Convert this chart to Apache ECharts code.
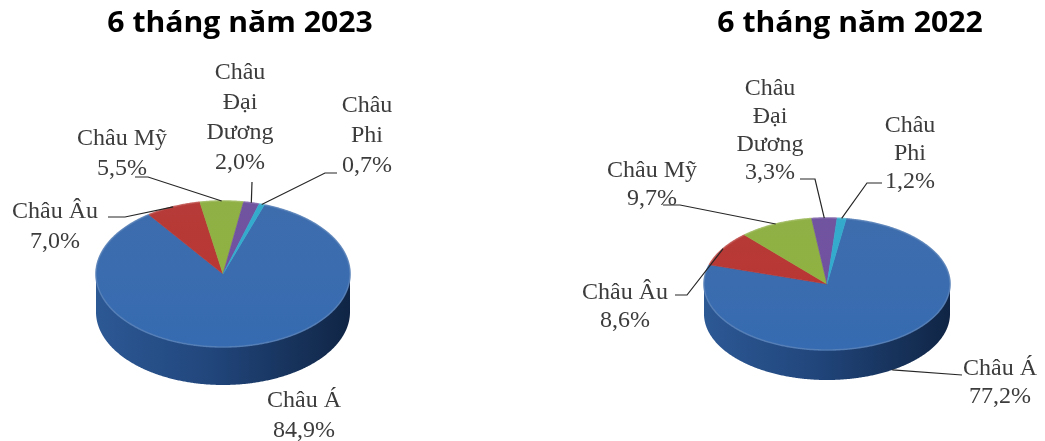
<!DOCTYPE html>
<html><head><meta charset="utf-8">
<script src="https://cdn.jsdelivr.net/npm/echarts@6/dist/echarts.min.js"></script>
<style>html,body{margin:0;padding:0;background:#fff}#c{width:1045px;height:441px}</style>
</head><body><div id="c"></div>
<script>
// ---------- data ----------
const categories = ['Châu Á', 'Châu Âu', 'Châu Mỹ', 'Châu Đại Dương', 'Châu Phi'];
const labelNames = ['Châu Á', 'Châu Âu', 'Châu Mỹ', 'Châu\nĐại\nDương', 'Châu\nPhi'];
const values2023 = [84.9, 7.0, 5.5, 2.0, 0.7];
const values2022 = [77.2, 8.6, 9.7, 3.3, 1.2];
const titles = ['6 tháng năm 2023', '6 tháng năm 2022'];

// ---------- styling / layout ----------
const topColors  = ['#3466a9', '#b3312e', '#8aac3c', '#6a4b9b', '#2ba6c9'];
const sideColors = [['#2c5894', '#21467c', '#102545'], ['#7a211f','#6a1c1a','#4a1210'], ['#5e7828','#506a22','#384b17'], ['#4a346c','#3f2d5d','#2c1f42'], ['#1e7390','#19637c','#114657']];
const layouts = [
  { cx: 223, cy: 274, rx: 127, ry: 73, depth: 38, start: 19, lh: 30,
    titleX: 240, titleY: 24,
    labels: [
      { x: 304, y: 401, elbow: null },
      { x: 55,  y: 212, elbow: [[108,217],[125,217]] },
      { x: 122, y: 139, elbow: [[135,177],[148,177]] },
      { x: 240, y: 73,  elbow: [[252,182]] },
      { x: 367, y: 106, elbow: [[337,173],[325,173]] }
    ] },
  { cx: 827, cy: 284, rx: 123, ry: 66, depth: 30, start: 9, lh: 28,
    titleX: 850, titleY: 24,
    labels: [
      { x: 1000, y: 369, elbow: [[962,375]] },
      { x: 625, y: 293, elbow: [[675,295],[687,295]] },
      { x: 652, y: 171, elbow: [[663,205],[680,205]] },
      { x: 770, y: 89,  elbow: [[800,179],[815,179]] },
      { x: 910, y: 126, elbow: [[882,183],[867,183]] }
    ] }
];
const labelFont = '24px "Liberation Serif"';
const labelColor = '#3c3c3c';

function fmt(v) { return v.toFixed(1).replace('.', ',') + '%'; }

function makeSeries(values, L) {
  const total = values.reduce((a, b) => a + b, 0);
  const starts = [];
  let acc = L.start;
  values.forEach(v => { starts.push(acc); acc += v / total * 360; });
  function P(th, dy) {
    const r = th * Math.PI / 180;
    return [L.cx + L.rx * Math.sin(r), L.cy - L.ry * Math.cos(r) + (dy || 0)];
  }
  return {
    type: 'custom',
    coordinateSystem: 'none',
    silent: true,
    data: values.map((v, i) => [v, i]),
    renderItem: function (params, api) {
      const i = params.dataIndex;
      const v = api.value(0);
      const a0 = starts[i], a1 = a0 + v / total * 360;
      const children = [];
      // side walls (front half)
      [[90, 270], [450, 630]].forEach(([lo, hi]) => {
        const s = Math.max(a0, lo), e = Math.min(a1, hi);
        if (s < e) {
          const pts = [];
          for (let t = s; t < e; t += 0.5) pts.push(P(t));
          pts.push(P(e));
          for (let t = e; t > s; t -= 0.5) pts.push(P(t, L.depth));
          pts.push(P(s, L.depth));
          const sc = sideColors[i];
          children.push({
            type: 'polygon', shape: { points: pts },
            style: { fill: { type: 'linear', global: true, x: L.cx - L.rx, y: 0, x2: L.cx + L.rx, y2: 0,
              colorStops: [{ offset: 0, color: sc[0] }, { offset: 0.45, color: sc[1] }, { offset: 1, color: sc[2] }] } }
          });
        }
      });
      // top face
      const tp = [[L.cx, L.cy]];
      const rim = [];
      for (let t = a0; t < a1; t += 0.5) { tp.push(P(t)); rim.push(P(t)); }
      tp.push(P(a1)); rim.push(P(a1));
      children.push({
        type: 'polygon', shape: { points: tp }, z2: 5,
        style: { fill: { type: 'linear', global: true, x: 0, y: L.cy - L.ry, x2: 0, y2: L.cy + L.ry,
          colorStops: [{ offset: 0, color: echarts.color.lift(topColors[i], 0.05) }, { offset: 1, color: echarts.color.lift(topColors[i], -0.05) }] },
          stroke: topColors[i], lineWidth: 0.5 }
      });
      // bevel highlight along rim
      children.push({
        type: 'polyline', z2: 6, shape: { points: rim },
        style: { stroke: echarts.color.lift(topColors[i], 0.18), lineWidth: 1.6, fill: null, opacity: 0.8 }
      });
      // leader
      const lab = L.labels[i];
      if (lab.elbow) {
        const mid = (a0 + a1) / 2;
        const m = ((mid % 360) + 360) % 360;
        const anchor = (m > 90 && m < 270) ? P(mid, L.depth) : P(mid);
        children.push({
          type: 'polyline', z2: 10,
          shape: { points: lab.elbow.concat([anchor]) },
          style: { stroke: '#262626', lineWidth: 1.2, fill: null }
        });
      }
      // label
      const text = labelNames[i] + '\n' + fmt(v);
      const nLines = text.split('\n').length;
      children.push({
        type: 'text', z2: 12,
        x: lab.x, y: lab.y + (nLines - 1) * L.lh / 2,
        style: { text: text, font: labelFont, fill: labelColor, lineHeight: L.lh,
          align: 'center', verticalAlign: 'middle', textAlign: 'center', textVerticalAlign: 'middle' }
      });
      return { type: 'group', children: children };
    }
  };
}

const chart = echarts.init(document.getElementById('c'));
chart.setOption({
  animation: false,
  backgroundColor: '#ffffff',
  graphic: titles.map((t, k) => ({
    type: 'text', x: layouts[k].titleX, y: layouts[k].titleY, scaleX: 1.04,
    style: { text: t, font: 'bold 29px "Open Sans"', fill: '#000000', align: 'center', verticalAlign: 'middle', textAlign: 'center', textVerticalAlign: 'middle' }
  })),
  series: [makeSeries(values2023, layouts[0]), makeSeries(values2022, layouts[1])]
});
</script>
</body></html>
